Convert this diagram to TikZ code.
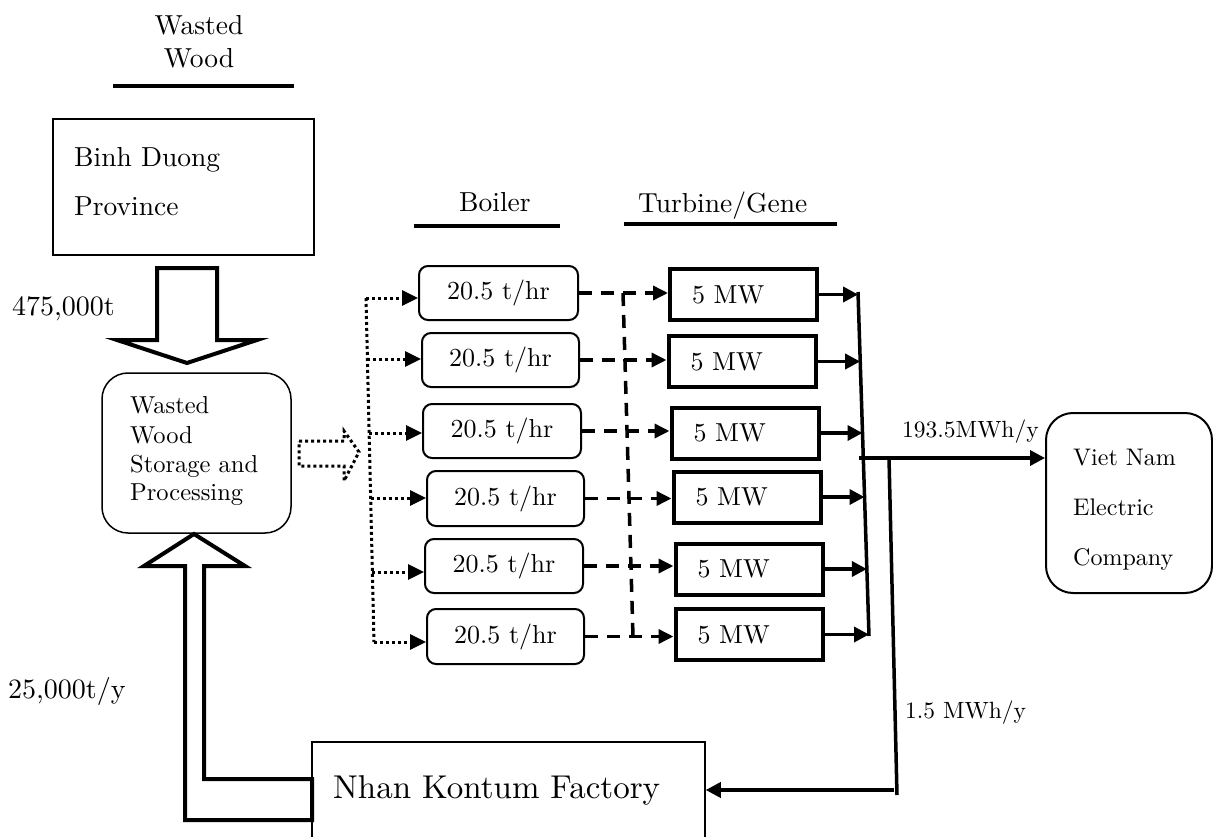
\documentclass[tikz,border=0pt]{standalone}
\usepackage{fontspec}
\setmainfont{lmroman10-regular.otf}
\usetikzlibrary{arrows.meta,calc}
\newcommand\fontA{\fontsize{27.5}{33}\selectfont}
\newcommand\fontS{\fontsize{24.5}{29}\selectfont}
\newcommand\fontM{\fontsize{26}{31}\selectfont}
\newcommand\fontL{\fontsize{28}{33}\selectfont}
\newcommand\fontF{\fontsize{33}{39}\selectfont}
\newcommand\fontV{\fontsize{24}{29}\selectfont}
\newcommand\fontE{\fontsize{23.5}{28}\selectfont}
\begin{document}
\begin{tikzpicture}[x=1pt,y=-1pt,
  txt/.style={inner sep=0pt, anchor=base west},
  uline/.style={line width=4pt},
  thinbox/.style={draw, line width=1.5pt, inner sep=0pt},
  boiler/.style={draw, line width=2pt, rounded corners=9pt, minimum width=157pt, minimum height=54pt, inner sep=0pt, font=\fontM},
  turb/.style={draw, line width=4pt, minimum width=147pt, minimum height=51pt, inner xsep=22pt, inner ysep=0pt, text width=103pt, align=left, font=\fontM},
  hollow/.style={line width=4pt, line join=miter},
  dotl/.style={line width=3pt, dash pattern=on 3pt off 3pt},
  dotarr/.style={dotl, -{Triangle[length=16pt,width=15pt]}},
  dasharr/.style={line width=3.5pt, dash pattern=on 13pt off 9pt, -{Triangle[length=15pt,width=14pt]}},
  dashl/.style={line width=3.5pt, dash pattern=on 13pt off 9pt},
  solid line/.style={line width=3.5pt},
  arr/.style={line width=3.5pt, -{Triangle[length=15pt,width=15pt]}}
]
\useasboundingbox (0,0) rectangle (1213,837);
\fill[white] (0,0) rectangle (1213,837);

% header: Wasted Wood
\node[txt, anchor=base, font=\fontA] (ww1) at (199,35) {Wasted};
\node[txt, anchor=base, font=\fontA] (ww2) at (199,68) {Wood};
\draw[uline] (113,86) -- (294,86);

% Binh Duong
\node[thinbox, minimum width=261pt, minimum height=136pt] (bd) at (183.5,187) {};
\node[txt, font=\fontA] (bd1) at (74,167) {Binh Duong};
\node[txt, font=\fontA] (bd2) at (74,216) {Province};

% big down arrow
\draw[hollow] (157,268) -- (217,268) -- (217,340) -- (257,340) -- (187,363) -- (117,340) -- (157,340) -- cycle;
\node[txt, font=\fontL] (l475) at (12,315) {475,000t};

% storage
\node[thinbox, rounded corners=26pt, minimum width=189pt, minimum height=160pt] (st) at (196.5,453) {};
\node[txt, font=\fontS] (st1) at (130,413) {Wasted};
\node[txt, font=\fontS] (st2) at (130,443) {Wood};
\node[txt, font=\fontS] (st3) at (130,472) {Storage and};
\node[txt, font=\fontS] (st4) at (130,500) {Processing};

% dotted hollow arrow
\draw[dotl] (299,441) -- (344,441) -- (344,431) -- (359,452) -- (344,481) -- (344,466) -- (299,466) -- cycle;

% headers
\node[txt, font=\fontA] (hb) at (459,212) {Boiler};
\draw[uline] (414,226) -- (560,226);
\node[txt, font=\fontA] (ht) at (638,213) {Turbine/Gene};
\draw[uline] (624,224) -- (837,224);

% boilers
\node[boiler, minimum width=159pt] (b1) at (498.5,293) {20.5 t/hr};
\node[boiler] (b2) at (500.5,360) {20.5 t/hr};
\node[boiler, minimum width=158pt] (b3) at (502,431) {20.5 t/hr};
\node[boiler, minimum height=55pt] (b4) at (505.5,498.5) {20.5 t/hr};
\node[boiler, minimum width=158pt] (b5) at (504,566) {20.5 t/hr};
\node[boiler, minimum height=55pt] (b6) at (505.5,636.5) {20.5 t/hr};

% turbines
\node[turb] (t1) at (743.5,294.5) {5 MW};
\node[turb] (t2) at (742,361.5) {5 MW};
\node[turb] (t3) at (745,433) {5 MW};
\node[turb] (t4) at (747,497) {5 MW};
\node[turb] (t5) at (749,569) {5 MW};
\node[turb] (t6) at (749,634.5) {5 MW};

% dotted distribution
\coordinate (dv1) at (366,298);
\coordinate (dv2) at (374,642);
\draw[dotl] (dv1) -- (dv2);
\coordinate (s1) at (366,298);
\coordinate (s2) at (367.4,359);
\coordinate (s3) at (369.1,433);
\coordinate (s4) at (370.7,498);
\coordinate (s5) at (372.4,572);
\coordinate (s6) at (374,642);
\foreach \i in {1,...,6} {\draw[dotarr] (s\i) -- (s\i -| b\i.west);}

% dashed boiler -> turbine
\coordinate (dd1) at (623,293);
\coordinate (dd2) at (633,636.5);
\draw[dashl] (dd1) -- (dd2);
\foreach \i in {1,...,6} {\draw[dasharr] (b\i.east) -- (b\i.east -| t\i.west);}

% collector bar
\coordinate (bt) at (858,292);
\coordinate (bb) at (869,636);
\draw[solid line] (bt) -- (bb);
\coordinate (e1) at (858.1,294.5);
\coordinate (e2) at (860.2,361.5);
\coordinate (e3) at (862.5,433);
\coordinate (e4) at (864.5,497);
\coordinate (e5) at (866.9,569);
\coordinate (e6) at (869,634.5);
\foreach \i in {1,...,6} {\draw[arr] (t\i.east) -- (e\i);}

% Viet Nam Electric Company
\node[draw, line width=2pt, rounded corners=27pt, minimum width=166pt, minimum height=180pt] (vn) at (1129,503) {};
\node[txt, font=\fontV] (vn1) at (1073,465) {Viet Nam};
\node[txt, font=\fontV] (vn2) at (1073,515) {Electric};
\node[txt, font=\fontV] (vn3) at (1073,565) {Company};

% output lines
\coordinate (j1) at (859,458);
\draw[arr] (j1) -- (j1 -| vn.west);
\node[txt, font=\fontE] (l193) at (902,437) {193.5MWh/y};
\coordinate (j2) at (889,458);
\coordinate (j3) at (897,795);
\draw[solid line] (j2) -- (j3);
\node[txt, font=\fontE] (l15) at (905,718) {1.5 MWh/y};

% factory
\node[thinbox, minimum width=393pt, minimum height=118pt] (fac) at (508.5,801) {};
\node[txt, font=\fontF] (fac1) at (333,798) {Nhan Kontum Factory};
\coordinate (j4) at (894,790);
\draw[arr] (j4) -- (j4 -| fac.east);

% return hollow arrow
\draw[hollow] (312,820) -- (185,820) -- (185,566) -- (144,566) -- (194,534) -- (245,566) -- (204,566) -- (204,779) -- (312,779) -- cycle;
\node[txt, font=\fontL] (l25) at (8,698) {25,000t/y};
\end{tikzpicture}
\end{document}
